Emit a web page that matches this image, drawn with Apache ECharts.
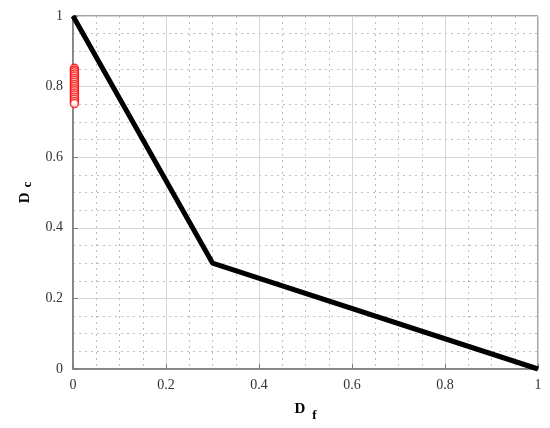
<!DOCTYPE html>
<html><head><meta charset="utf-8">
<script src="https://cdn.jsdelivr.net/npm/echarts@6/dist/echarts.min.js"></script>
<style>html,body{margin:0;padding:0;background:#fff}#c{width:550px;height:428px}</style>
</head><body><div id="c"></div>
<script>
var lineX = [0, 0.3, 1];
var lineY = [1, 0.3, 0];
var pointsX = [0.003,0.003,0.003,0.003,0.003,0.003,0.003,0.003,0.003,0.003,0.003,0.003,0.003,0.003,0.003,0.003,0.003,0.003];
var pointsY = [0.852,0.847,0.842,0.836,0.830,0.824,0.818,0.812,0.806,0.800,0.794,0.788,0.782,0.776,0.770,0.764,0.758,0.752];
var ticks = [0, 0.2, 0.4, 0.6, 0.8, 1];

var chart = echarts.init(document.getElementById('c'), null, {renderer:'canvas'});
var font = 'Liberation Serif';
function fmt(v){ return ticks.indexOf(+v.toFixed(2))>=0 ? String(+v.toFixed(1)) : ''; }
var axisCommon = {
  min: 0, max: 1, interval: 0.2,
  axisLine: {show:true, lineStyle:{color:'#7a7a7a', width:1.5}},
  axisTick: {show:true, inside:true, length:5, lineStyle:{color:'#7a7a7a'}},
  minorTick: {show:false, splitNumber:4},
  splitLine: {show:true, lineStyle:{color:'#d6d6d6', width:1}},
  minorSplitLine: {show:true, lineStyle:{color:'#bdbdbd', type:[2,4], width:1}},
  axisLabel: {fontFamily:font, fontSize:14, color:'#333', formatter: fmt}
};
chart.setOption({
  animation:false,
  grid:{left:73, right:12, top:16, bottom:59, outerBoundsMode:'none', containLabel:false, show:true, borderColor:'#444', borderWidth:1, backgroundColor:'transparent'},
  xAxis: Object.assign({}, axisCommon, {
    type:'value',
    axisLabel: Object.assign({}, axisCommon.axisLabel, {margin:9}),
    name:'{d|D}{s|f}', nameLocation:'middle', nameGap:28,
    nameTextStyle:{rich:{d:{fontFamily:font,fontSize:15,fontWeight:'bold',color:'#000'}, s:{fontFamily:font,fontSize:13,fontWeight:'bold',color:'#000',padding:[12,0,0,7]}}}
  }),
  yAxis: Object.assign({}, axisCommon, {
    type:'value',
    axisLabel: Object.assign({}, axisCommon.axisLabel, {margin:10}),
    name:'{d|D}{s|c}', nameLocation:'middle', nameGap:32,
    nameTextStyle:{rich:{d:{fontFamily:font,fontSize:15,fontWeight:'bold',color:'#000'}, s:{fontFamily:font,fontSize:13,fontWeight:'bold',color:'#000',padding:[6,0,0,5]}}}
  }),
  series:[
    {type:'line', data: lineX.map(function(x,i){return [x,lineY[i]];}), symbol:'none',
     lineStyle:{color:'#000', width:5}, z:3},
    {type:'scatter', data: pointsX.map(function(x,i){return [x,pointsY[i]];}), symbol:'circle', symbolSize:8,
     itemStyle:{color:'#fff', borderColor:'#ff0000', borderWidth:1.5}, z:4}
  ]
});
</script></body></html>
